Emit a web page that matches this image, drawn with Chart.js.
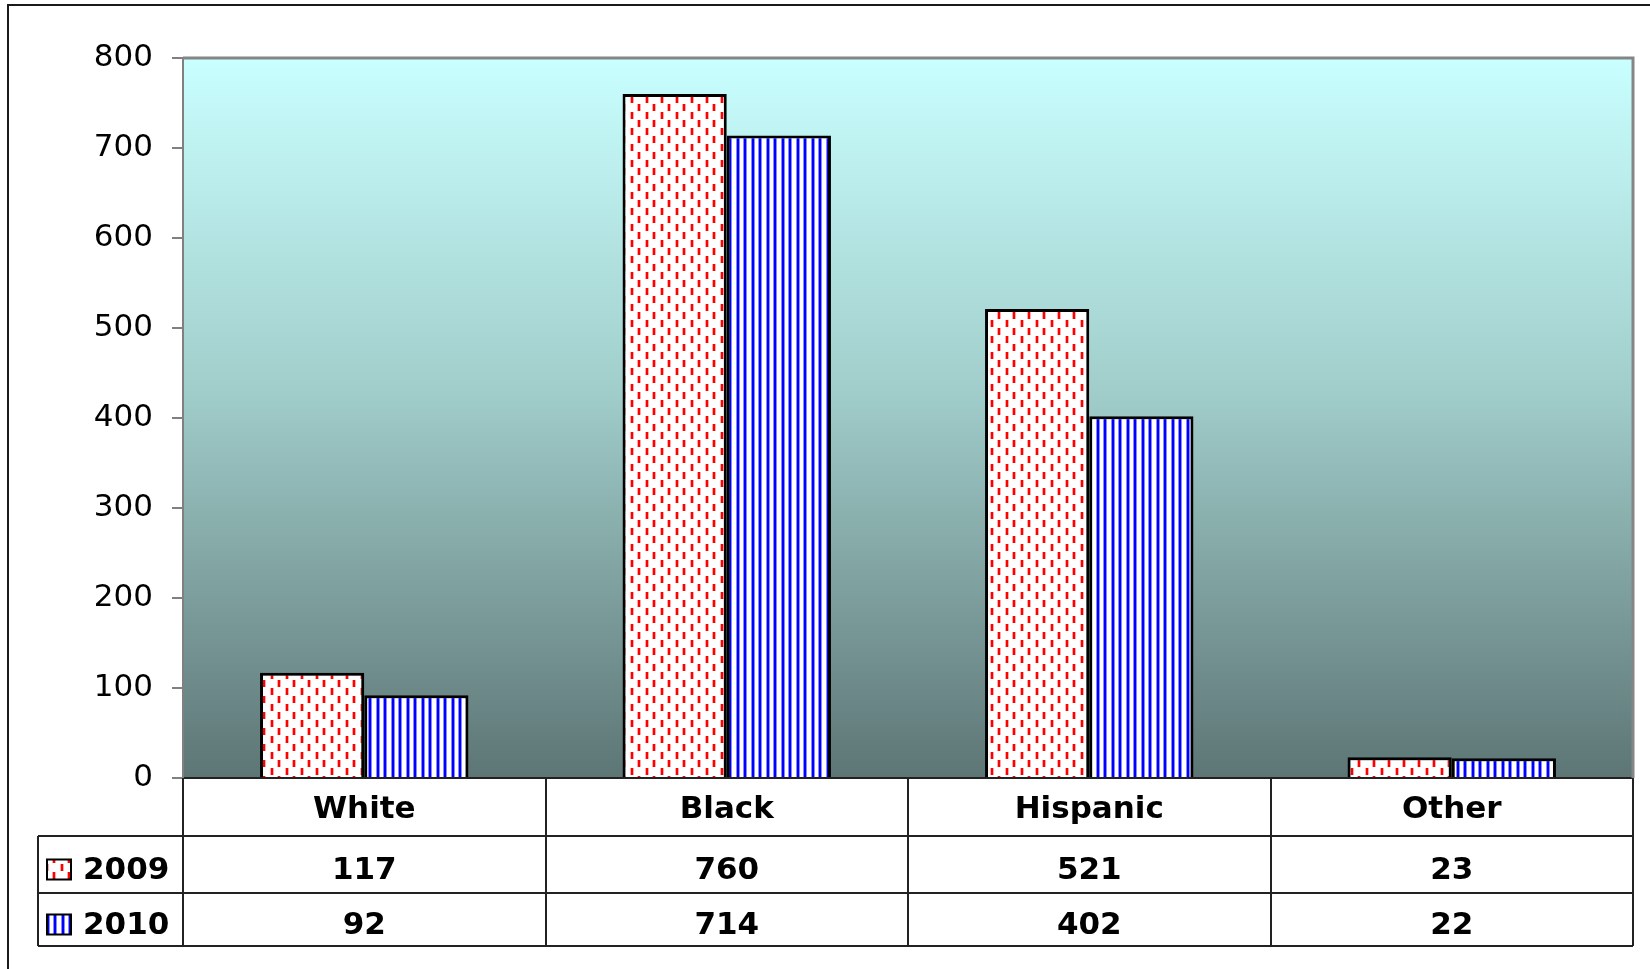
<!DOCTYPE html>
<html>
<head>
<meta charset="utf-8">
<script src="https://cdn.jsdelivr.net/npm/chart.js@4/dist/chart.umd.min.js"></script>
<style>
html,body{margin:0;padding:0;background:#fff;}
#wrap{width:1650px;height:969px;position:relative;}
</style>
</head>
<body>
<div id="wrap"><canvas id="c" width="1650" height="969"></canvas></div>
<script>
const categories = ["White", "Black", "Hispanic", "Other"];
const seriesNames = ["2009", "2010"];
const values2009 = [117, 760, 521, 23];
const values2010 = [92, 714, 402, 22];
const yTicks = [0, 100, 200, 300, 400, 500, 600, 700, 800];

const FONT = "'DejaVu Sans', Verdana, sans-serif";

function makeRedPattern() {
  const c = document.createElement('canvas');
  c.width = 15; c.height = 16;
  const g = c.getContext('2d');
  g.fillStyle = '#ffffff'; g.fillRect(0, 0, 15, 16);
  g.fillStyle = 'rgba(255,0,0,0.35)';
  g.fillRect(0, 0, 4, 7); g.fillRect(7, 8, 4, 7);
  g.fillStyle = '#ff0000';
  g.fillRect(1, 0, 2, 7); g.fillRect(8, 8, 2, 7);
  return g.createPattern(c, 'repeat');
}
function makeBluePattern() {
  const c = document.createElement('canvas');
  c.width = 15; c.height = 4;
  const g = c.getContext('2d');
  g.fillStyle = '#ffffff'; g.fillRect(0, 0, 15, 4);
  g.fillStyle = '#8888ff';
  g.fillRect(1, 0, 4, 4); g.fillRect(8, 0, 4, 4);
  g.fillStyle = '#0000ff';
  g.fillRect(2, 0, 2, 4); g.fillRect(9, 0, 2, 4);
  return g.createPattern(c, 'repeat');
}
const redPat = makeRedPattern();
const bluePat = makeBluePattern();
const patterns = [redPat, bluePat];
const seriesValues = [values2009, values2010];

const bgPlugin = {
  id: 'bg',
  beforeDraw(chart) {
    const {ctx, chartArea: a} = chart;
    const grad = ctx.createLinearGradient(0, a.top, 0, a.bottom);
    grad.addColorStop(0, '#c9ffff');
    grad.addColorStop(0.45, '#a2cfcc');
    grad.addColorStop(1, '#5d7575');
    ctx.save();
    ctx.fillStyle = grad;
    ctx.fillRect(a.left, a.top, a.right - a.left, a.bottom - a.top);
    ctx.strokeStyle = '#1a1a1a';
    ctx.lineWidth = 2;
    ctx.beginPath();
    ctx.moveTo(8, 969); ctx.lineTo(8, 5); ctx.lineTo(1650, 5);
    ctx.stroke();
    ctx.restore();
  },
  afterDatasetsDraw(chart) {
    const {ctx, chartArea: a} = chart;
    ctx.save();
    ctx.strokeStyle = '#858585';
    ctx.lineWidth = 3;
    ctx.beginPath();
    ctx.moveTo(a.left, a.top); ctx.lineTo(a.right, a.top); ctx.lineTo(a.right, a.bottom);
    ctx.stroke();
    ctx.restore();
  }
};

const tablePlugin = {
  id: 'datatable',
  afterDraw(chart) {
    const {ctx, chartArea: a} = chart;
    const xs = chart.scales.x;
    const catW = (a.right - a.left) / categories.length;
    const top = a.bottom;
    const r1 = top + 58, r2 = r1 + 57, r3 = r2 + 53;
    const tableLeft = 38;
    ctx.save();
    ctx.strokeStyle = '#222';
    ctx.lineWidth = 2;
    ctx.beginPath();
    for (let i = 0; i <= categories.length; i++) {
      const x = Math.round(a.left + i * catW);
      ctx.moveTo(x, top); ctx.lineTo(x, r3);
    }
    ctx.moveTo(tableLeft, r1); ctx.lineTo(tableLeft, r3);
    [r1, r2, r3].forEach(y => { ctx.moveTo(tableLeft, y); ctx.lineTo(a.right, y); });
    ctx.stroke();

    const rows = [[r1, r2], [r2, r3]];
    ctx.font = 'bold 31px ' + FONT;
    ctx.fillStyle = '#000';
    ctx.textBaseline = 'middle';
    rows.forEach((r, si) => {
      const cy = (r[0] + r[1]) / 2 + 6;
      ctx.textAlign = 'center';
      seriesValues[si].forEach((v, i) => {
        ctx.fillText(String(v), xs.getPixelForValue(i), cy);
      });
      const kx = 47, ky = cy - 11;
      ctx.fillStyle = patterns[si];
      ctx.fillRect(kx, ky, 24, 20);
      ctx.strokeStyle = '#000';
      ctx.lineWidth = 2;
      ctx.strokeRect(kx, ky, 24, 20);
      ctx.fillStyle = '#000';
      ctx.textAlign = 'left';
      ctx.fillText(seriesNames[si], 83, cy);
    });
    ctx.restore();
  }
};

new Chart(document.getElementById('c'), {
  type: 'bar',
  data: {
    labels: categories,
    datasets: [
      { label: seriesNames[0], data: values2009, backgroundColor: redPat, borderColor: '#000', borderWidth: 3, borderSkipped: 'bottom' },
      { label: seriesNames[1], data: values2010, backgroundColor: bluePat, borderColor: '#000', borderWidth: 3, borderSkipped: 'bottom' }
    ]
  },
  plugins: [bgPlugin, tablePlugin],
  options: {
    responsive: false,
    animation: false,
    events: [],
    layout: { padding: { left: 0, top: 58, right: 17, bottom: 23 } },
    plugins: { legend: { display: false }, tooltip: { enabled: false } },
    datasets: { bar: { categoryPercentage: 0.575, barPercentage: 1.0 } },
    scales: {
      x: {
        grid: { display: false, drawTicks: false },
        border: { display: true, color: '#222', width: 2 },
        ticks: { font: { family: FONT, size: 31, weight: 'bold' }, color: '#000', padding: 13, maxRotation: 0 },
        afterFit(s) { s.height = 168; }
      },
      y: {
        min: 0, max: 800,
        afterBuildTicks(s) { s.ticks = yTicks.map(v => ({ value: v })); },
        grid: { drawOnChartArea: false, drawTicks: true, tickLength: 11, color: '#808080', lineWidth: 2 },
        border: { display: true, color: '#808080', width: 2 },
        ticks: { font: { family: FONT, size: 31 }, color: '#000', padding: 19 },
        afterFit(s) { s.width = 183; }
      }
    }
  }
});
</script>
</body>
</html>
